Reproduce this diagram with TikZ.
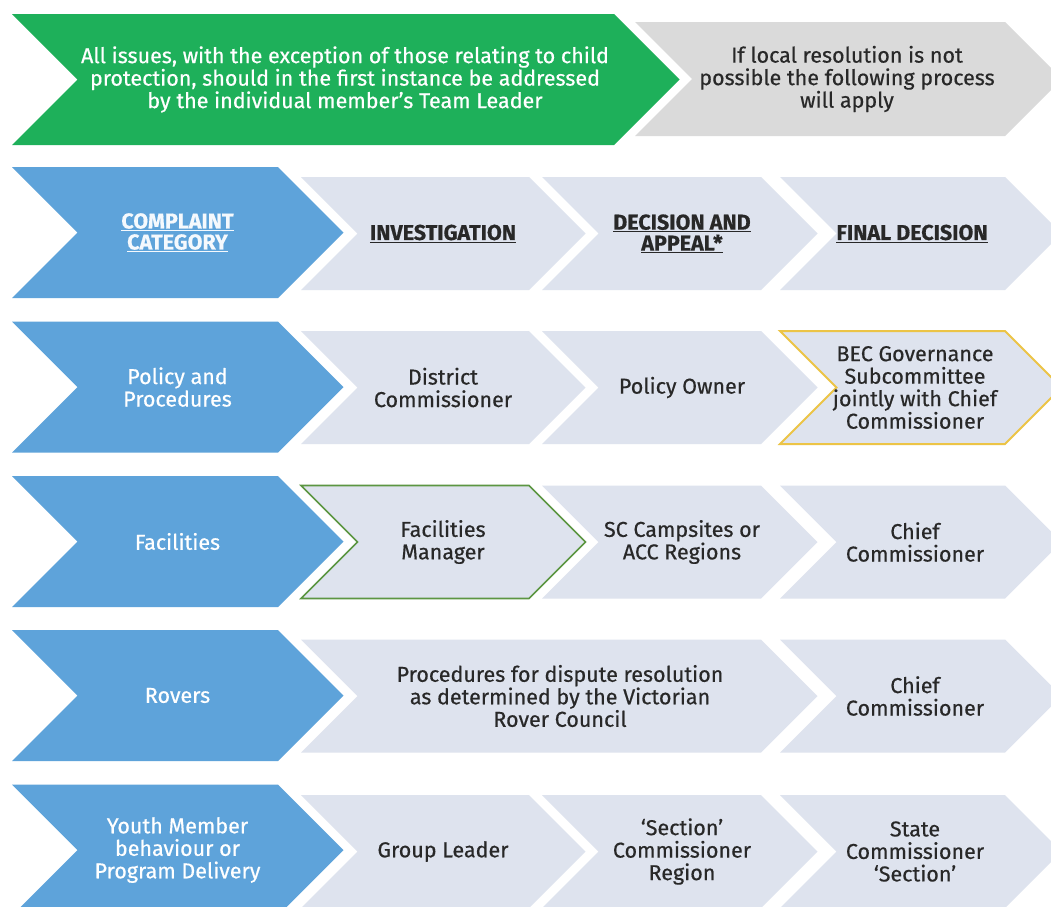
\documentclass[tikz,border=0pt]{standalone}
\usepackage{fontspec}
\setmainfont{Fira Sans}[FakeBold=0.5]
\definecolor{topgreen}{RGB}{30,176,90}
\definecolor{topgray}{RGB}{218,218,218}
\definecolor{catblue}{RGB}{94,163,218}
\definecolor{stepfill}{RGB}{222,227,238}
\definecolor{darktext}{RGB}{40,40,40}
\definecolor{goldline}{RGB}{236,196,70}
\definecolor{oliveline}{RGB}{92,150,66}
\newcommand\chevshape[5]{% style, left, right corner, centre y, half height
  \path[#1] (#2,#4-#5) -- (#3,#4-#5) -- (#3+#5,#4) -- (#3,#4+#5) -- (#2,#4+#5) -- (#2+#5,#4) -- cycle;}
\begin{document}
\begin{tikzpicture}[x=1pt,y=-1pt,
  txt/.style={align=center,font=\fontsize{21.5}{22.5}\selectfont,text=darktext,inner sep=0pt},
  wtxt/.style={txt,text=white},
  hdr/.style={txt,font=\fontsize{21.5}{21}\selectfont\bfseries},
  whdr/.style={hdr,text=white!94!catblue},
  greenshape/.style={fill=topgreen},
  grayshape/.style={fill=topgray},
  blueshape/.style={fill=catblue},
  lightshape/.style={fill=stepfill},
  goldshape/.style={fill=stepfill,draw=goldline,line width=2pt},
  oliveshape/.style={fill=stepfill,draw=oliveline,line width=1.6pt}]
\useasboundingbox (0,0) rectangle (1051,906);
\clip (0,0) rectangle (1051,906);
\fill[white] (0,0) rectangle (1051,906);
% row 1
\chevshape{greenshape}{12}{614}{79.5}{65.5}
\chevshape{grayshape}{635}{1005}{79}{57}
\node[wtxt] (intro) at (345,79.5) {All issues, with the exception of those relating to child\\protection, should in the first instance be addressed\\by the individual member's Team Leader};
\node[txt] (local) at (847,79) {If local resolution is not\\possible the following process\\will apply};
% shapes of rows 2-6
\foreach \cy in {232.5,387,541.5,695.5,850}{
  \chevshape{blueshape}{12}{278}{\cy}{65.5}
}
\foreach \cy in {233.5,387.5,542,696,851.5}{
  \chevshape{lightshape}{780}{1005}{\cy}{56.5}
}
\foreach \cy in {233.5,387.5,542,851.5}{
  \chevshape{lightshape}{542}{761}{\cy}{56.5}
}
\foreach \cy in {233.5,387.5,851.5}{
  \chevshape{lightshape}{301}{529}{\cy}{56.5}
}
\chevshape{oliveshape}{301}{529}{542}{56.5}
\chevshape{lightshape}{301}{761}{696}{56.5}
\chevshape{goldshape}{780}{1005}{387.5}{56.5}
% header row
\node[whdr] (hcat) at (177.5,232.5) {\underline{COMPLAINT}\\\underline{CATEGORY}};
\node[hdr] (hinv) at (443,233.5) {\underline{INVESTIGATION}};
\node[hdr] (hdec) at (682,233.5) {\underline{DECISION AND}\\\underline{APPEAL*}};
\node[hdr] (hfin) at (912,233.5) {\underline{FINAL DECISION}};
% row 3
\node[wtxt] (c3) at (177.5,387) {Policy and\\Procedures};
\node[txt] (i3) at (443,387.5) {District\\Commissioner};
\node[txt] (d3) at (682,387.5) {Policy Owner};
\node[txt] (f3) at (915,387.5) {BEC Governance\\Subcommittee\\jointly with Chief\\Commissioner};
% row 4
\node[wtxt] (c4) at (177.5,541.5) {Facilities};
\node[txt] (i4) at (443,542) {Facilities\\Manager};
\node[txt] (d4) at (682,542) {SC Campsites or\\ACC Regions};
\node[txt] (f4) at (915,542) {Chief\\Commissioner};
% row 5
\node[wtxt] (c5) at (177.5,695.5) {Rovers};
\node[txt] (i5) at (560,696) {Procedures for dispute resolution\\as determined by the Victorian\\Rover Council};
\node[txt] (f5) at (915,696) {Chief\\Commissioner};
% row 6
\node[wtxt] (c6) at (177.5,850) {Youth Member\\behaviour or\\Program Delivery};
\node[txt] (i6) at (443,851.5) {Group Leader};
\node[txt] (d6) at (682,851.5) {`Section'\\Commissioner\\Region};
\node[txt] (f6) at (915,851.5) {State\\Commissioner\\`Section'};
\end{tikzpicture}
\end{document}
